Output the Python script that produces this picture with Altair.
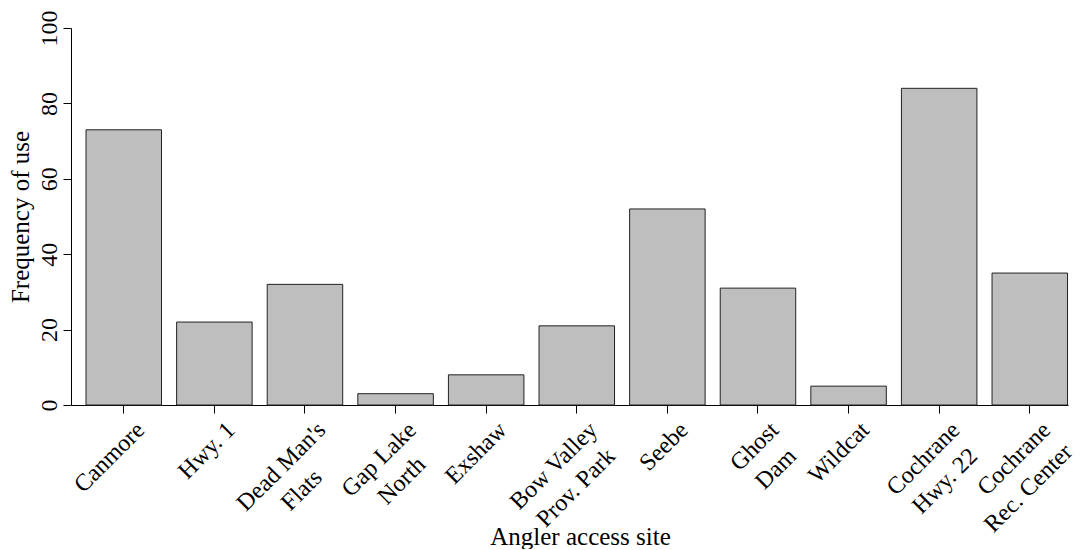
import altair as alt
import pandas as pd

# site names: first and second label line
line1 = ["Canmore", "Hwy. 1", "Dead Man's", "Gap Lake", "Exshaw",
         "Bow Valley", "Seebe", "Ghost", "Wildcat", "Cochrane", "Cochrane"]
line2 = ["", "", "Flats", "North", "", "Prov. Park", "", "Dam", "",
         "Hwy. 22", "Rec. Center"]
freq = [73, 22, 32, 3, 8, 21, 52, 31, 5, 84, 35]
y_ticks = [0, 20, 40, 60, 80, 100]

# trailing no-break spaces (closed by a zero-width space so they are not trimmed)
# so that a shorter second line sits centred under the first
centre_pad = [0, 0, 6, 3, 0, 1, 0, 1, 0, 1, 0]

labels = [a if not b else a + "|" + b + ("\u00a0" * p + "\u200b" if p else "")
          for a, b, p in zip(line1, line2, centre_pad)]
df = pd.DataFrame({"site": labels, "freq": freq})

FONT = "Liberation Serif"

chart = alt.Chart(df).mark_bar(
    fill="#BEBEBE", stroke="#222222", strokeWidth=1
).encode(
    x=alt.X("site:N", sort=None,
            scale=alt.Scale(paddingInner=0.1667, paddingOuter=0.0854, align=0.97),
            axis=alt.Axis(title="Angler access site", labelAngle=315,
                          labelAlign="right", labelBaseline="middle",
                          labelExpr="split(datum.label, '|')",
                          labelLineHeight=31,
                          labelOffset=17, labelPadding=13,
                          tickSize=8, labelFontSize=24,
                          titleFontSize=25, titleX=509, titleY=139,
                          titleBaseline="alphabetic", titleAlign="center")),
    y=alt.Y("freq:Q", scale=alt.Scale(domain=[0, 100], nice=False),
            axis=alt.Axis(title="Frequency of use", values=y_ticks,
                          labelAngle=270, labelAlign="center",
                          labelBaseline="alphabetic", labelPadding=7,
                          tickSize=8, labelFontSize=24,
                          titleFontSize=25, titleAngle=270, titleAlign="center",
                          titleBaseline="alphabetic", titleX=-43, titleY=188.5)),
).properties(
    width=997, height=377,
    background="white",
    autosize=alt.AutoSizeParams(type="none"),
    padding={"left": 63, "top": 20, "right": 10, "bottom": 144},
).configure_axis(
    grid=False, domainColor="black", tickColor="black", labelColor="black",
    titleColor="black", labelFont=FONT, titleFont=FONT,
    titleFontWeight="normal", domainWidth=1, tickWidth=1,
    labelOverlap=False, labelFlush=False, labelBound=False
).configure_view(stroke=None)

chart.save("out.html", embed_options={"renderer": "svg", "actions": False})
